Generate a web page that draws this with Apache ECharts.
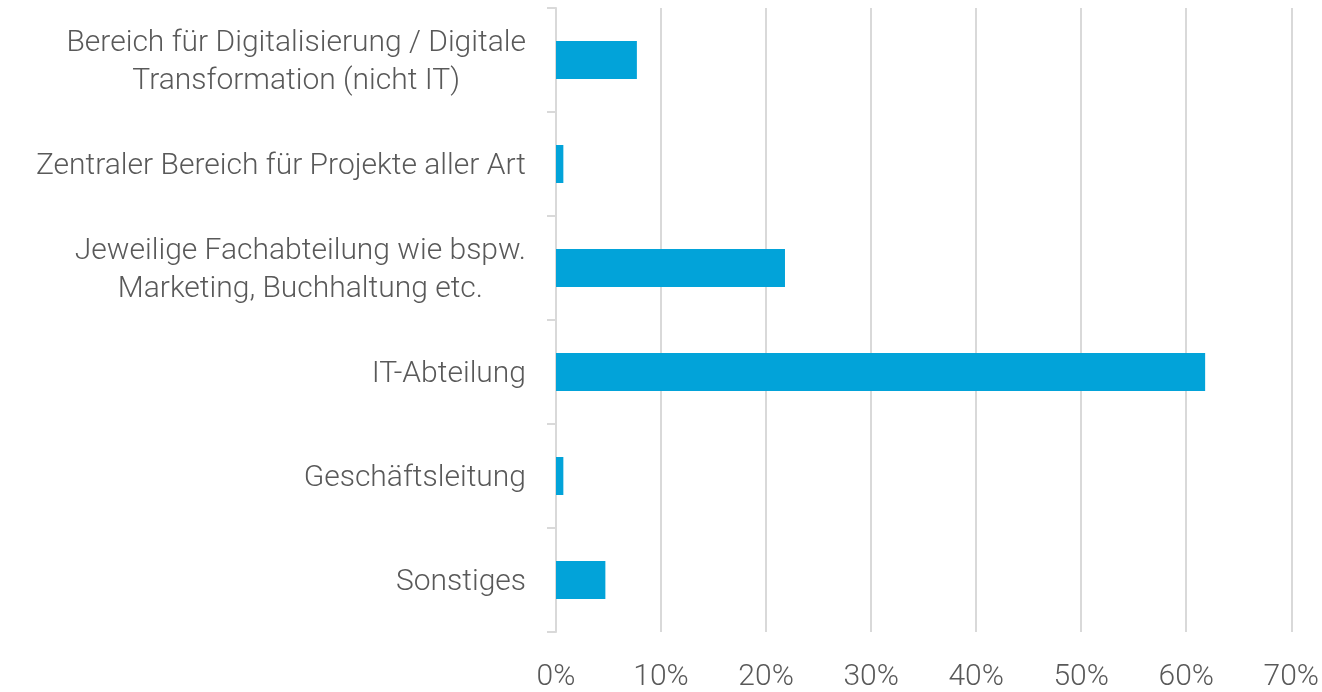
<!DOCTYPE html>
<html>
<head>
<meta charset="utf-8">
<script src="https://cdn.jsdelivr.net/npm/echarts@6/dist/echarts.min.js"></script>
<style>
  html, body { margin: 0; padding: 0; background: #fff; }
  #divChart { width: 1322px; height: 692px; }
</style>
</head>
<body>
<div id="divChart"></div>
<script>
    // Kategorien (von oben nach unten) und Anteile in %
    var categories = [
        'Bereich für Digitalisierung / Digitale\nTransformation (nicht IT)',
        'Zentraler Bereich für Projekte aller Art',
        'Jeweilige Fachabteilung wie bspw.\nMarketing, Buchhaltung etc.',
        'IT-Abteilung',
        'Geschäftsleitung',
        'Sonstiges'
    ];
    var values = [7.7, 0.7, 21.8, 61.8, 0.7, 4.7];
    var xTicks = [0, 10, 20, 30, 40, 50, 60, 70];

    var myChart = echarts.init(document.getElementById('divChart'));
    var textColor = '#595959';
    var lineColor = '#d9d9d9';

    var option = {
        animation: false,
        textStyle: { fontFamily: 'Roboto', fontWeight: 300 },
        grid: {
            left: 556,
            right: 30,
            top: 8,
            bottom: 58
        },
        xAxis: {
            type: 'value',
            min: xTicks[0],
            max: xTicks[xTicks.length - 1],
            interval: 10,
            axisLine: { show: false },
            axisTick: { show: false },
            splitLine: { lineStyle: { color: lineColor, width: 2 } },
            axisLabel: {
                margin: 30,
                fontSize: 30,
                color: textColor,
                fontFamily: 'Roboto',
                fontWeight: 300,
                formatter: function (v) { return v + '%'; }
            }
        },
        yAxis: {
            type: 'category',
            inverse: true,
            data: categories,
            axisLine: { show: true, lineStyle: { color: lineColor, width: 2 } },
            axisTick: { show: true, length: 9, lineStyle: { color: lineColor, width: 2 } },
            axisLabel: {
                margin: 30,
                fontSize: 30,
                color: textColor,
                fontFamily: 'Roboto',
                fontWeight: 300,
                padding: [5, 0, 0, 0],
                formatter: function (v) {
                    return v.split('\n').map(function (s) { return '{c|' + s + '}'; }).join('\n');
                },
                rich: {
                    c: {
                        align: 'center',
                        fontSize: 30,
                        lineHeight: 38,
                        color: textColor,
                        fontFamily: 'Roboto',
                        fontWeight: 300
                    }
                }
            }
        },
        series: [
            {
                type: 'bar',
                data: values,
                barWidth: 38,
                itemStyle: { color: '#02a3d9' }
            }
        ]
    };
    myChart.setOption(option);
</script>
</body>
</html>
